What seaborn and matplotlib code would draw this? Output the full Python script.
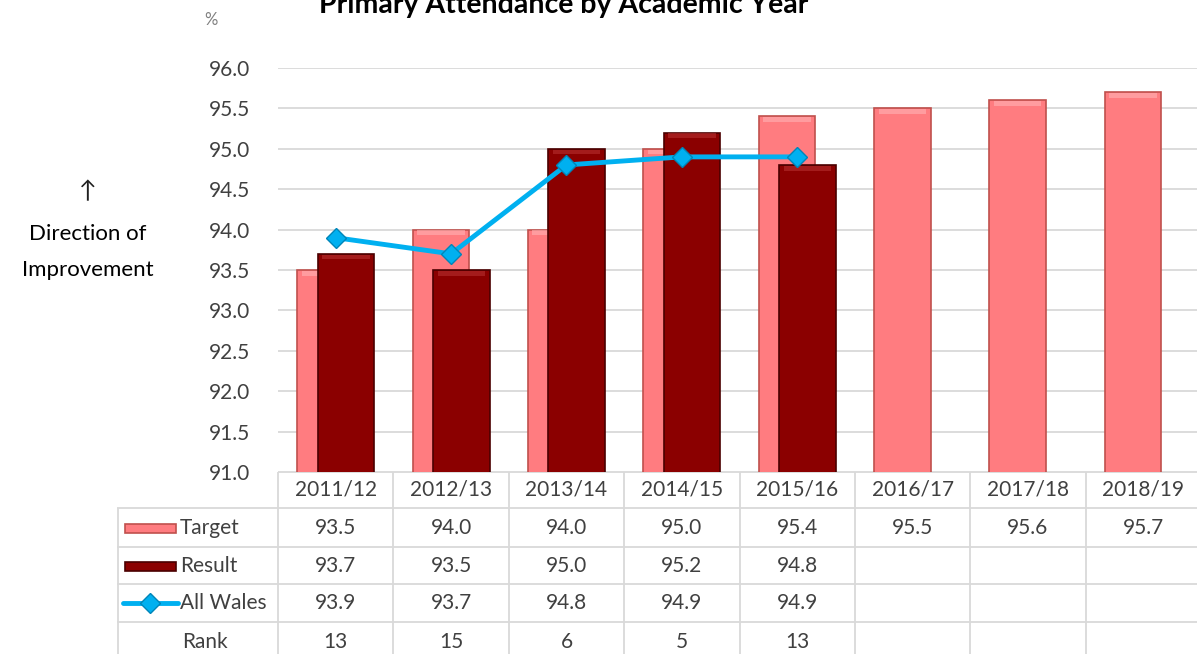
import numpy as np
import pandas as pd
import matplotlib.pyplot as plt
import seaborn as sns

# ---- data ----
years = ["2011/12", "2012/13", "2013/14", "2014/15", "2015/16", "2016/17", "2017/18", "2018/19"]
target = [93.5, 94.0, 94.0, 95.0, 95.4, 95.5, 95.6, 95.7]
result = [93.7, 93.5, 95.0, 95.2, 94.8]
all_wales = [93.9, 93.7, 94.8, 94.9, 94.9]
rank = [13, 15, 6, 5, 13]

target_col = "#FF7C80"
target_edge = "#C0504D"
result_col = "#8B0000"
result_edge = "#4A0000"
line_col = "#00B0F0"
grid_col = "#D9D9D9"
text_col = "#404040"

sns.set_theme(style="white")
plt.rcParams['font.family'] = ['Lato', 'DejaVu Sans']

W, H = 1197, 654
fig = plt.figure(figsize=(W / 100, H / 100), dpi=100)

# pixel layout
ax_left, ax_right, ax_top, ax_bottom = 278, 1201, 68, 472
col_w = (ax_right - ax_left) / len(years)

ax = fig.add_axes([ax_left / W, 1 - ax_bottom / H, (ax_right - ax_left) / W, (ax_bottom - ax_top) / H])

idx = np.arange(len(years))
off = 0.089
bw = 0.49

df_t = pd.DataFrame({"x": idx - off, "y": target})
df_r = pd.DataFrame({"x": idx[:len(result)] + off, "y": result})
df_w = pd.DataFrame({"x": idx[:len(all_wales)], "y": all_wales})

sns.barplot(data=df_t, x="x", y="y", native_scale=True, width=bw, color=target_col,
            saturation=1, edgecolor=target_edge, linewidth=1.2, ax=ax, zorder=2)
sns.barplot(data=df_r, x="x", y="y", native_scale=True, width=bw, color=result_col,
            saturation=1, edgecolor=result_edge, linewidth=1.2, ax=ax, zorder=3)

# bevel highlight on top of bars
for p in ax.patches:
    x0, w = p.get_x(), p.get_width()
    top = p.get_y() + p.get_height()
    light = "#FFB3B5" if p.get_facecolor()[1] > 0.3 else "#B53030"
    ax.fill_between([x0 + w * 0.08, x0 + w * 0.92], top - 0.07, top - 0.01,
                    color=light, alpha=0.6, zorder=p.get_zorder(), linewidth=0)

sns.lineplot(data=df_w, x="x", y="y", color=line_col, linewidth=3.5, marker="D",
             markersize=10, markeredgecolor="#0085B8", markeredgewidth=1, ax=ax, zorder=4)

ax.set_xlim(-0.5, len(years) - 0.5)
ax.set_ylim(91, 96)
ax.set_yticks(np.arange(91, 96.01, 0.5))
ax.set_yticklabels([f"{v:.1f}" for v in np.arange(91, 96.01, 0.5)], fontsize=15, color=text_col)
ax.set_xticks([])
ax.set_xlabel("")
ax.set_ylabel("")
ax.tick_params(axis="y", length=0, pad=20)
ax.yaxis.grid(True, color=grid_col, linewidth=1.3, zorder=0)
ax.set_axisbelow(True)
for s in ax.spines.values():
    s.set_visible(False)

# ---- data table below the plot ----
tab_left = 117
tab = fig.add_axes([tab_left / W, 0, (ax_right - tab_left) / W, (H - ax_bottom) / H])
tab.set_xlim(-0.5 - (ax_left - tab_left) / col_w, len(years) - 0.5)
tab.set_ylim(H, ax_bottom)
tab.axis("off")

rows = [472, 508, 547, 584, 622, 662]
lab_x0 = tab.get_xlim()[0]
n = len(years)
# horizontal lines
tab.hlines(rows[0], -0.5, n - 0.5, color=grid_col, lw=1.3)
tab.hlines(rows[1:], lab_x0, n - 0.5, color=grid_col, lw=1.3)
# vertical lines
for k in range(n + 1):
    tab.vlines(k - 0.5, rows[0], rows[-1], color=grid_col, lw=1.3)
tab.vlines(lab_x0 + 0.005, rows[1], rows[-1], color=grid_col, lw=1.3)

mids = [(rows[i] + rows[i + 1]) / 2 for i in range(len(rows) - 1)]
for i, y in enumerate(years):
    tab.text(i, mids[0], y, ha="center", va="center", fontsize=15, color=text_col)
for vals, row in [(target, 1), (result, 2), (all_wales, 3)]:
    for i, v in enumerate(vals):
        tab.text(i, mids[row], f"{v:.1f}", ha="center", va="center", fontsize=15, color=text_col)
for i, v in enumerate(rank):
    tab.text(i, mids[4], str(v), ha="center", va="center", fontsize=15, color=text_col)

# legend keys in the label column
key_x0 = lab_x0 + 8 / col_w
key_x1 = lab_x0 + 59 / col_w
for row, fc, ec in [(1, target_col, target_edge), (2, result_col, result_edge)]:
    tab.add_patch(plt.Rectangle((key_x0, mids[row] - 4), key_x1 - key_x0, 9,
                                facecolor=fc, edgecolor=ec, lw=1.2))
tab.plot([key_x0 - 2 / col_w, key_x1 + 2 / col_w], [mids[3], mids[3]], color=line_col, lw=3.5)
tab.plot([(key_x0 + key_x1) / 2], [mids[3]], marker="D", markersize=10, color=line_col,
         markeredgecolor="#0085B8")
text_x = lab_x0 + 63 / col_w
tab.text(text_x, mids[1], "Target", ha="left", va="center", fontsize=15, color=text_col)
tab.text(text_x, mids[2], "Result", ha="left", va="center", fontsize=15, color=text_col)
tab.text(text_x, mids[3], "All Wales", ha="left", va="center", fontsize=15, color=text_col)
tab.text(lab_x0 + 88 / col_w, mids[4], "Rank", ha="center", va="center", fontsize=15, color=text_col)

# ---- titles and side notes ----
fig.text(564 / W, 1 - 13 / H, "Primary Attendance by Academic Year", ha="center",
         va="baseline", fontsize=20.5, fontweight="bold", color="black")
fig.text(211 / W, 1 - 20 / H, "%", ha="center", va="center", fontsize=12, color="#7F7F7F")
fig.text(88 / W, 1 - 192 / H, "↑", ha="center", va="center", fontsize=17, color="#202020")
fig.text(88 / W, 1 - 234 / H, "Direction of", ha="center", va="center", fontsize=16, color="black")
fig.text(88 / W, 1 - 270 / H, "Improvement", ha="center", va="center", fontsize=16, color="black")

fig.savefig("out.png", dpi=100)
